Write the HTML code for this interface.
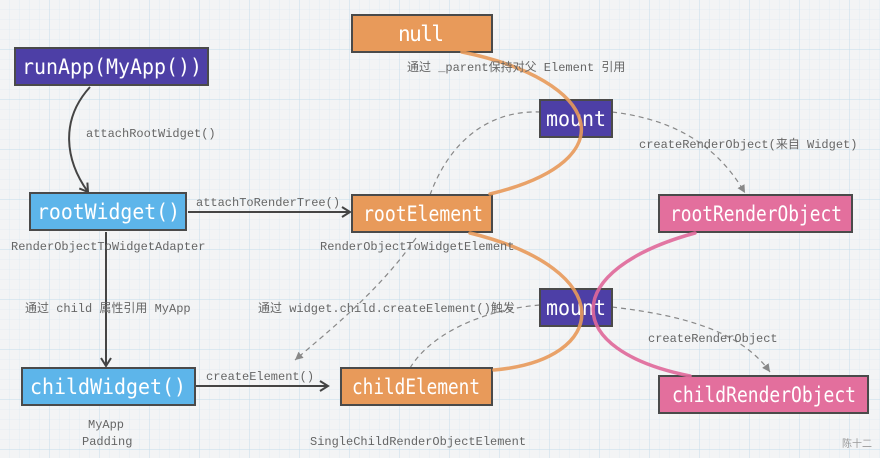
<!DOCTYPE html>
<html><head><meta charset="utf-8"><style>
body{margin:0;width:880px;height:458px;overflow:hidden;background:#f3f4f5;}
svg{display:block}
.b{font-family:"DejaVu Sans Mono","Liberation Mono",monospace;font-size:21px;fill:#fff;dominant-baseline:central}
.s{font-family:"Liberation Mono","Noto Sans CJK SC",monospace;font-size:12px;fill:#666;}
.box{stroke:#4a4a4a;stroke-width:2}
</style></head><body>
<svg width="880" height="458" viewBox="0 0 880 458">
<defs>
<pattern id="g" width="10" height="10" patternUnits="userSpaceOnUse"><path d="M10 0V10H0" fill="none" stroke="#d6e6f0" stroke-width="0.6"/></pattern>
<pattern id="G" width="50" height="50" patternUnits="userSpaceOnUse"><path d="M50 0V50H0" fill="none" stroke="#c3dbea" stroke-width="0.9"/></pattern>
<marker id="a" markerWidth="12" markerHeight="12" refX="10" refY="6" orient="auto" markerUnits="userSpaceOnUse"><path d="M2 1L10 6L2 11" fill="none" stroke="#444" stroke-width="2"/></marker>
<marker id="d" markerWidth="10" markerHeight="10" refX="8" refY="5" orient="auto" markerUnits="userSpaceOnUse"><path d="M0 1L8 5L0 9z" fill="#888"/></marker>
</defs>
<rect width="880" height="458" fill="#f3f4f5"/>
<rect width="880" height="458" fill="url(#g)"/>
<rect width="880" height="458" fill="url(#G)"/>

<g fill="none" stroke="#888" stroke-width="1.2" stroke-dasharray="5,4">
<path d="M430 195 C450 140 490 110 540 112" />
<path d="M612 112 C680 120 720 150 745 193" marker-end="url(#d)"/>
<path d="M416 238 C380 290 330 330 295 360" marker-end="url(#d)"/>
<path d="M410 368 C430 335 480 310 540 305"/>
<path d="M612 307 C680 315 740 330 770 372" marker-end="url(#d)"/>
</g>
<g fill="none" stroke="#444" stroke-width="2">
<path d="M90 87 C60 120 65 160 88 192" marker-end="url(#a)"/>
<path d="M188 212 L350 212" marker-end="url(#a)"/>
<path d="M106 232 L106 366" marker-end="url(#a)"/>
<path d="M196 386 L328 386" marker-end="url(#a)"/>
</g>

<rect class="box" x="352" y="15" width="140" height="37" fill="#e89a5a"/><text class="b" x="398" y="34" textLength="46">null</text>
<rect class="box" x="15" y="48" width="193" height="37" fill="#4d3fa6"/><text class="b" x="22" y="67" textLength="180" lengthAdjust="spacingAndGlyphs">runApp(MyApp())</text>
<rect class="box" x="540" y="100" width="72" height="37" fill="#4d3fa6"/><text class="b" x="546" y="119" textLength="60" lengthAdjust="spacingAndGlyphs">mount</text>
<rect class="box" x="30" y="193" width="156" height="37" fill="#5db5ea"/><text class="b" x="37" y="212" textLength="143" lengthAdjust="spacingAndGlyphs">rootWidget()</text>
<rect class="box" x="352" y="195" width="140" height="37" fill="#e89a5a"/><text class="b" x="363" y="214" textLength="120" lengthAdjust="spacingAndGlyphs">rootElement</text>
<rect class="box" x="659" y="195" width="193" height="37" fill="#e36f9d"/><text class="b" x="670" y="214" textLength="172" lengthAdjust="spacingAndGlyphs">rootRenderObject</text>
<rect class="box" x="540" y="289" width="72" height="37" fill="#4d3fa6"/><text class="b" x="546" y="308" textLength="60" lengthAdjust="spacingAndGlyphs">mount</text>
<rect class="box" x="22" y="368" width="173" height="37" fill="#5db5ea"/><text class="b" x="30" y="387" textLength="156" lengthAdjust="spacingAndGlyphs">childWidget()</text>
<rect class="box" x="341" y="368" width="151" height="37" fill="#e89a5a"/><text class="b" x="352" y="387" textLength="128" lengthAdjust="spacingAndGlyphs">childElement</text>
<rect class="box" x="659" y="376" width="209" height="37" fill="#e36f9d"/><text class="b" x="672" y="395" textLength="184" lengthAdjust="spacingAndGlyphs">childRenderObject</text>

<g fill="none" stroke-width="3.5" stroke-linecap="round" opacity="0.9">
<path d="M462 52 C600 80 630 160 490 194" stroke="#e89a5a"/>
<path d="M470 233 C620 270 610 360 494 370" stroke="#e89a5a"/>
<path d="M695 233 C560 270 560 350 690 376" stroke="#e0689a"/>
</g>

<text class="s" x="407" y="71">通过 _parent保持对父 Element 引用</text>
<text class="s" x="86" y="137">attachRootWidget()</text>
<text class="s" x="639" y="148">createRenderObject(来自 Widget)</text>
<text class="s" x="196" y="206">attachToRenderTree()</text>
<text class="s" x="11" y="250">RenderObjectToWidgetAdapter</text>
<text class="s" x="320" y="250">RenderObjectToWidgetElement</text>
<text class="s" x="25" y="312">通过 child 属性引用 MyApp</text>
<text class="s" x="258" y="312">通过 widget.child.createElement()触发</text>
<text class="s" x="648" y="342">createRenderObject</text>
<text class="s" x="206" y="380">createElement()</text>
<text class="s" x="88" y="428">MyApp</text>
<text class="s" x="82" y="445">Padding</text>
<text class="s" x="310" y="445">SingleChildRenderObjectElement</text>
<text class="s" x="842" y="447" style="font-size:10px;fill:#999">陈十二</text>
</svg>
</body></html>
